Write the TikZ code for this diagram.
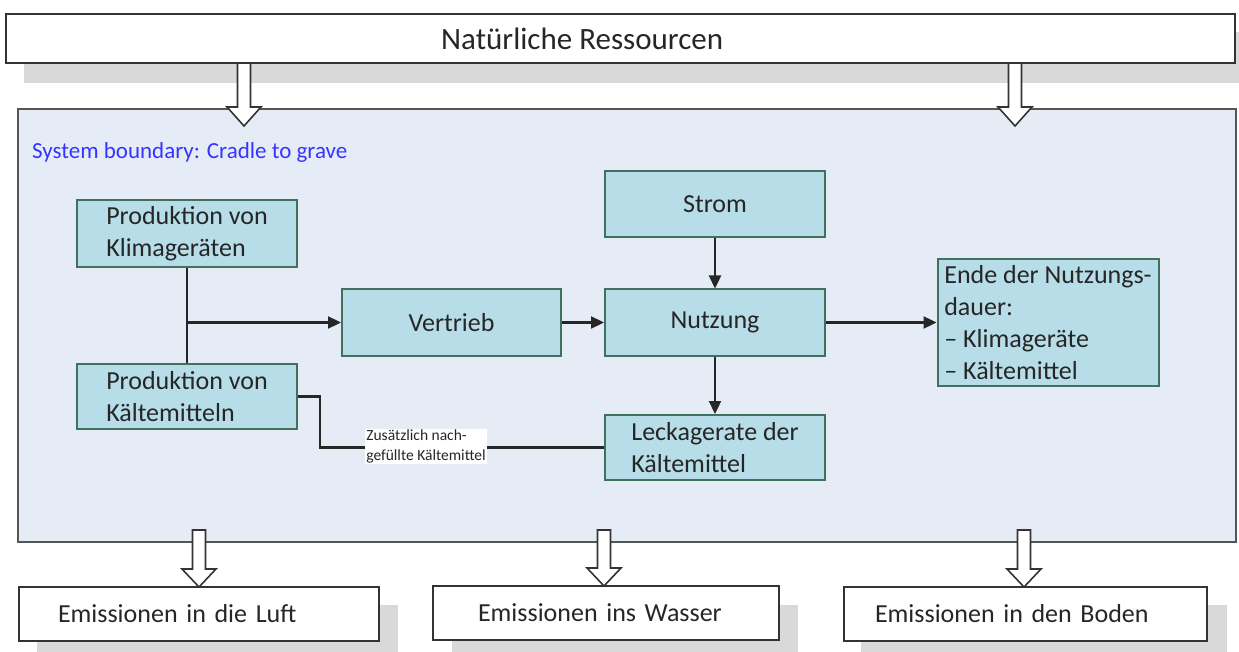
\documentclass[tikz,border=0pt]{standalone}
\usepackage{fontspec}
\setmainfont{Carlito}
\usetikzlibrary{arrows.meta,calc}
\definecolor{boxfill}{HTML}{B7DDE8}
\definecolor{boxline}{HTML}{41705E}
\definecolor{sysfill}{HTML}{E6ECF6}
\definecolor{sysline}{HTML}{555555}
\definecolor{shadowgray}{HTML}{D9D9D9}
\definecolor{sysblue}{HTML}{3535FF}
\definecolor{txt}{HTML}{262626}
\newcommand\blockarrow[4]{\draw[hollowarrow] ({#1-6.5},#2) -- ({#1-6.5},#3) -- ({#1-17},#3) -- (#1,#4) -- ({#1+17},#3) -- ({#1+6.5},#3) -- ({#1+6.5},#2) -- cycle;}
\begin{document}
\begin{tikzpicture}[x=1pt,y=-1pt,
 procbox/.style={draw=boxline, fill=boxfill, line width=2pt, minimum width=220pt, minimum height=66pt, inner sep=1pt, align=left, font=\fontsize{26}{32}\selectfont, text=txt},
 outbox/.style={draw=black!80, fill=white, line width=1.8pt, minimum height=54pt, inner ysep=0pt, align=left, font=\fontsize{26}{32}\selectfont, text=txt},
 flow/.style={line width=2.3pt, draw=black!85, -{Triangle[length=13pt,width=12pt]}},
 plainline/.style={line width=2.3pt, draw=black!85},
 shadowbox/.style={fill=shadowgray},
 hollowarrow/.style={draw=black!80, fill=white, line width=1.6pt, line join=miter},
 sysbox/.style={draw=sysline, fill=sysfill, line width=1.8pt, inner sep=0pt}
]
\clip (0,0) rectangle (1239,652);
\useasboundingbox (0,0) rectangle (1239,652);

% top resource box
\fill[shadowbox] (24,32) rectangle (1260,83);
\node[draw=black!80, fill=white, line width=1.8pt, minimum width=1229pt, minimum height=49pt, inner sep=0pt] (res) at (620.5,38.5) {};
\node[anchor=west, font=\fontsize{31}{36}\selectfont, text=txt, inner sep=0pt] (restext) at (441,39) {Natürliche Ressourcen};

% system boundary
\node[sysbox, minimum width=1218pt, minimum height=433pt] (sys) at (627,325.5) {};
\node[anchor=west, font=\fontsize{23}{28}\selectfont, text=sysblue, inner sep=0pt] (syslabel) at (32,152) {System boundary: Cradle to grave};

% process boxes
\node[procbox, minimum height=67pt] (klima) at (187,233.5) {Produktion von\\Klimageräten};
\node[procbox, minimum height=65pt] (kaelte) at (187,396.5) {Produktion von\\Kältemitteln};
\node[procbox, minimum width=219pt] (vertrieb) at (451.5,322.5) {Vertrieb};
\node[procbox] (strom) at (715,204) {Strom};
\node[procbox] (nutzung) at (715,322.5) {Nutzung};
\node[procbox, minimum height=65pt] (leck) at (715,447.5) {Leckagerate der\\Kältemittel};
\node[procbox, minimum width=221pt, minimum height=126pt] (ende) at (1048,322.5) {Ende der Nutzungs-\\dauer:\\– Klimageräte\\– Kältemittel};

% connectors
\draw[plainline] (klima.south) -- (kaelte.north);
\coordinate (j) at (klima.south |- vertrieb.west);
\draw[flow] (j) -- (vertrieb.west);
\draw[flow] (vertrieb.east) -- (nutzung.west);
\draw[flow] (strom.south) -- (nutzung.north);
\draw[flow] (nutzung.south) -- (leck.north);
\draw[flow] (nutzung.east) -- (ende.west);
\draw[plainline] (kaelte.east) -- ++(22,0) |- (leck.west);
\node[fill=white, align=left, inner sep=1pt, font=\fontsize{15.5}{20}\selectfont, text=txt] (refill) at (426,446.5) {Zusätzlich nach-\\gefüllte Kältemittel};

% block arrows from resources
\blockarrow{244}{63}{107}{126}
\blockarrow{1015}{63}{107}{126}

% emission boxes
\fill[shadowbox] (37,605) rectangle (398,660);
\fill[shadowbox] (452,605) rectangle (798,660);
\fill[shadowbox] (861,605) rectangle (1227,660);
\node[outbox, minimum width=360pt, inner xsep=39pt, text width=282pt] (luft) at (199,614) {Emissionen in die Luft};
\node[outbox, minimum width=346pt, inner xsep=45pt, text width=256pt] (wasser) at (606,613) {Emissionen ins Wasser};
\node[outbox, minimum width=363pt, inner xsep=31pt, text width=301pt] (boden) at (1025.5,614) {Emissionen in den Boden};

% block arrows to emissions
\blockarrow{199}{530}{569}{587}
\blockarrow{604}{530}{568}{586}
\blockarrow{1024}{530}{569}{587}
\end{tikzpicture}
\end{document}
